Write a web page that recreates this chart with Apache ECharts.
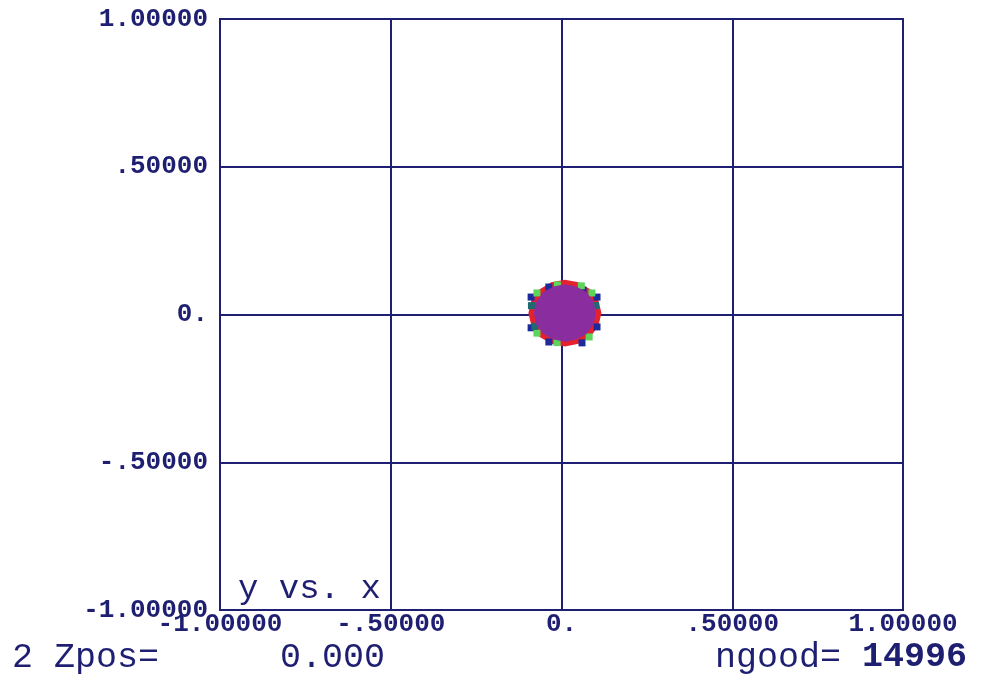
<!DOCTYPE html>
<html>
<head>
<meta charset="utf-8">
<script src="https://cdn.jsdelivr.net/npm/echarts@6/dist/echarts.min.js"></script>
<style>
  html, body { margin: 0; padding: 0; background: #ffffff; }
  #chart { width: 983px; height: 674px; }
</style>
</head>
<body>
<div id="chart"></div>
<script>
// Axis tick values and their printed labels
const tickValues = [-1, -0.5, 0, 0.5, 1];
const tickLabels = ['-1.00000', '-.50000', '0.', '.50000', '1.00000'];

// Beam cross-section (y vs. x): outer red rim and purple core outlines
const rimShape = [
  [0.117, 0.005], [0.108, 0.048], [0.085, 0.085], [0.050, 0.109],
  [0.010, 0.118], [-0.030, 0.109], [-0.065, 0.085], [-0.088, 0.048],
  [-0.097, 0.005], [-0.088, -0.039], [-0.065, -0.075], [-0.030, -0.099],
  [0.010, -0.108], [0.050, -0.099], [0.085, -0.075], [0.108, -0.039]
];
const coreShape = [
  [0.101, 0.005], [0.094, 0.043], [0.074, 0.075], [0.043, 0.095],
  [0.010, 0.102], [-0.023, 0.095], [-0.054, 0.075], [-0.074, 0.043],
  [-0.081, 0.005], [-0.074, -0.033], [-0.054, -0.065], [-0.023, -0.085],
  [0.010, -0.092], [0.043, -0.085], [0.074, -0.065], [0.094, -0.033]
];
// Edge particles by colour group
const bluePts = [
  [-0.037, 0.093], [0.063, 0.082], [0.104, 0.059], [-0.089, 0.059],
  [-0.037, -0.093], [0.060, -0.096], [0.104, -0.042], [-0.089, -0.045]
];
const greenPts = [
  [-0.012, 0.100], [0.058, 0.097], [0.089, 0.073], [-0.072, 0.073],
  [-0.072, -0.063], [-0.013, -0.095], [0.081, -0.076]
];
const tealPts = [
  [-0.078, -0.040], [0.100, 0.030], [-0.088, 0.030]
];

// Footer values
const zposValue = '0.000';
const ngoodValue = '14996';

const navy = '#1f1f72';
const tickFont = { fontFamily: 'Liberation Mono', fontWeight: 'bold', fontSize: 26, color: navy };

function polygonSeries(name, shape, color, z) {
  return {
    name: name,
    type: 'custom',
    data: shape,
    z: z,
    renderItem: function (params, api) {
      if (params.dataIndex !== 0) return null;
      const pts = shape.map(function (p) { return api.coord(p); });
      return { type: 'polygon', shape: { points: pts }, style: { fill: color } };
    }
  };
}

function dotSeries(name, pts, color) {
  return {
    name: name,
    type: 'scatter',
    data: pts,
    symbol: 'rect',
    symbolSize: 7,
    z: 21,
    itemStyle: { color: color, opacity: 1 }
  };
}

function fmt(v) {
  for (let i = 0; i < tickValues.length; i++) {
    if (Math.abs(tickValues[i] - v) < 1e-9) return tickLabels[i];
  }
  return '';
}

const chart = echarts.init(document.getElementById('chart'));
chart.setOption({
  animation: false,
  backgroundColor: '#ffffff',
  grid: {
    left: 220, right: 80, top: 19, bottom: 64,
    show: true, borderColor: navy, borderWidth: 2,
    outerBoundsMode: 'none'
  },
  xAxis: {
    type: 'value', min: -1, max: 1, interval: 0.5,
    axisLine: { show: true, onZero: false, lineStyle: { color: navy, width: 2 } },
    axisTick: { show: false },
    splitLine: { show: true, lineStyle: { color: navy, width: 2 } },
    axisLabel: Object.assign({ formatter: fmt, margin: 1, showMinLabel: true, showMaxLabel: true }, tickFont)
  },
  yAxis: {
    type: 'value', min: -1, max: 1, interval: 0.5,
    axisLine: { show: true, onZero: false, lineStyle: { color: navy, width: 2 } },
    axisTick: { show: false },
    splitLine: { show: true, lineStyle: { color: navy, width: 2 } },
    axisLabel: Object.assign({ formatter: fmt, margin: 12, showMinLabel: true, showMaxLabel: true }, tickFont)
  },
  series: [
    polygonSeries('rim', rimShape, '#e3222e', 20),
    dotSeries('blue', bluePts, '#1c2a9c'),
    dotSeries('green', greenPts, '#5cd65a'),
    dotSeries('teal', tealPts, '#1d6a70'),
    polygonSeries('core', coreShape, '#8a2d9e', 22)
  ],
  graphic: [
    {
      type: 'text', left: 238, top: 572, z: 30,
      style: { text: 'y vs. x', font: '34px "Liberation Mono"', fill: navy }
    },
    {
      type: 'text', left: 12, top: 640, z: 30,
      style: { text: '2 Zpos=', font: '35px "Liberation Mono"', fill: navy }
    },
    {
      type: 'text', left: 280, top: 640, z: 30,
      style: { text: zposValue, font: '35px "Liberation Mono"', fill: navy }
    },
    {
      type: 'text', left: 715, top: 640, z: 30,
      style: { text: 'ngood= ', font: '35px "Liberation Mono"', fill: navy }
    },
    {
      type: 'text', left: 862, top: 640, z: 30,
      style: { text: ngoodValue, font: 'bold 35px "Liberation Mono"', fill: navy }
    }
  ]
});
</script>
</body>
</html>
